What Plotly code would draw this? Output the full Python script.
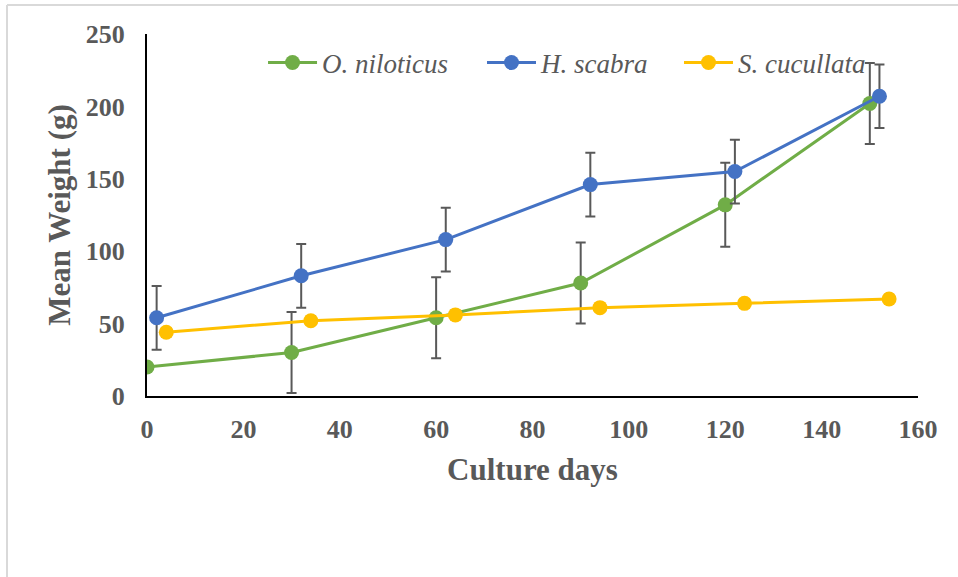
import plotly.graph_objects as go

# Culture days sampled for each species (offset slightly so error bars do not overlap)
days_on = [0, 30, 60, 90, 120, 150]
days_hs = [2, 32, 62, 92, 122, 152]
days_sc = [4, 34, 64, 94, 124, 154]

# Mean weight (g) and standard deviation
weight_on = [20, 30, 54, 78, 132, 202]
sd_on = [0, 28, 28, 28, 29, 28]

weight_hs = [54, 83, 108, 146, 155, 207]
sd_hs = [22, 22, 22, 22, 22, 22]

weight_sc = [44, 52, 56, 61, 64, 67]
sd_sc = [3, 3, 3, 3, 3, 3]

series = [
    ("O. niloticus", days_on, weight_on, sd_on, "#70AD47", "legend", 0.1505),
    ("H. scabra", days_hs, weight_hs, sd_hs, "#4472C4", "legend2", 0.4345),
    ("S. cucullata", days_sc, weight_sc, sd_sc, "#FFC000", "legend3", 0.690),
]

x_ticks = [0, 20, 40, 60, 80, 100, 120, 140, 160]
y_ticks = [0, 50, 100, 150, 200, 250]

FONT = "Liberation Serif"
GREY = "#595959"

W, H = 958, 577
M_L, M_R, M_T, M_B = 147, 40, 34, 181
PLOT_W = W - M_L - M_R
PLOT_H = H - M_T - M_B

fig = go.Figure()
legends = {}
for name, xs, ys, sd, color, leg, lx in series:
    fig.add_trace(go.Scatter(
        x=xs, y=ys, name=name, mode="lines+markers",
        legend=leg,
        line=dict(color=color, width=3),
        marker=dict(color=color, size=15),
        error_y=dict(type="data", array=sd, visible=True,
                     color=GREY, thickness=2, width=5),
    ))
    legends[leg] = dict(
        orientation="h", x=lx, y=0.920, xanchor="left", yanchor="middle",
        font=dict(family=FONT, size=27, color=GREY, style="italic"),
        bgcolor="rgba(0,0,0,0)", itemwidth=49,
    )

fig.update_layout(
    width=W, height=H,
    margin=dict(l=M_L, r=M_R, t=M_T, b=M_B),
    paper_bgcolor="white", plot_bgcolor="white",
    font=dict(family=FONT, color=GREY),
    showlegend=True,
    **legends,
    xaxis=dict(
        range=[0, 160], tickvals=x_ticks, showgrid=False, zeroline=False,
        showline=True, linecolor="black", linewidth=2, ticks="",
        ticklabelstandoff=9,
        tickfont=dict(family=FONT, size=26, color=GREY, weight="bold"),
        title=dict(text="Culture days", standoff=15,
                   font=dict(family=FONT, size=31, color=GREY, weight="bold")),
    ),
    yaxis=dict(
        range=[0, 250], tickvals=y_ticks, showgrid=False, zeroline=False,
        showline=True, linecolor="black", linewidth=2, ticks="",
        ticklabelstandoff=15,
        tickfont=dict(family=FONT, size=26, color=GREY, weight="bold"),
        title=dict(text="Mean Weight (g)", standoff=6,
                   font=dict(family=FONT, size=31, color=GREY, weight="bold")),
    ),
)

# Light frame along the top and left edges of the chart area
frame_x0 = (7 - M_L) / PLOT_W
frame_x1 = (W - M_L) / PLOT_W
frame_y1 = 1 + (M_T - 5) / PLOT_H
frame_y0 = -M_B / PLOT_H
fig.add_shape(type="line", xref="paper", yref="paper",
              x0=frame_x0, x1=frame_x1, y0=frame_y1, y1=frame_y1,
              line=dict(color="#D9D9D9", width=2))
fig.add_shape(type="line", xref="paper", yref="paper",
              x0=frame_x0, x1=frame_x0, y0=frame_y0, y1=frame_y1,
              line=dict(color="#D9D9D9", width=2))

fig.write_html("out.html")
